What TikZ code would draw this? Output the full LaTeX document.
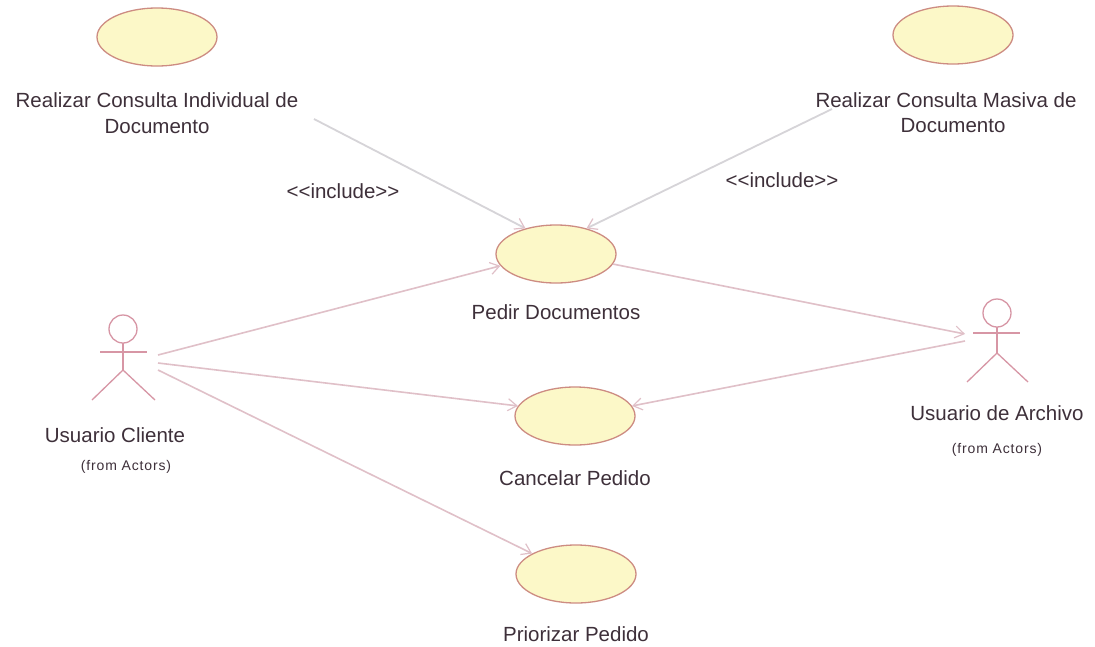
\documentclass[tikz,border=0pt]{standalone}
\usepackage{fontspec}
\setmainfont{Liberation Sans}
\newfontfamily\spacedfont{Liberation Sans}[LetterSpace=6]
\usetikzlibrary{arrows.meta,shapes.geometric}
\definecolor{ucfill}{RGB}{252,248,200}
\definecolor{ucedge}{RGB}{205,140,130}
\definecolor{actorline}{RGB}{215,150,165}
\definecolor{assocline}{RGB}{224,192,200}
\definecolor{incline}{RGB}{214,212,216}
\definecolor{txt}{RGB}{62,48,58}
\tikzset{
  usecase/.style={ellipse, draw=ucedge, fill=ucfill, line width=1.3pt,
    minimum width=120pt, minimum height=58pt, inner sep=0pt},
  lbl/.style={text=txt, font=\fontsize{20.5}{26}\selectfont, align=center, inner sep=0pt},
  small/.style={text=txt, font=\spacedfont\fontsize{14}{16}\selectfont, inner sep=0pt},
  actor/.style={draw=actorline, line width=1.3pt},
  assoc/.style={draw=assocline, line width=1.6pt, -{Straight Barb[length=9pt,width=12pt,line width=1.2pt]}},
  incl/.style={draw=incline, line width=1.8pt, -{Straight Barb[length=9pt,width=12pt,line width=1.2pt, color=assocline]}},
}
\newcommand{\incltext}{<\kern0pt<include>\kern0pt>}
\begin{document}
\begin{tikzpicture}[x=1pt,y=-1pt]
\useasboundingbox[fill=white] (0,0) rectangle (1095,646);

% use cases
\node[usecase] (rci) at (157,37) {};
\node[usecase] (rcm) at (953,35) {};
\node[usecase] (pd)  at (556,254) {};
\node[usecase] (cp)  at (575,416) {};
\node[usecase] (pp)  at (576,574) {};

\node[lbl] (rciL) at (157,113) {Realizar Consulta Individual de\\Documento};
\node[lbl] (rcmL1) at (946,100) {Realizar Consulta Masiva de};
\node[lbl] (rcmL2) at (953,126) {Documento};
\node[lbl] (pdL) at (556,312) {Pedir Documentos};
\node[lbl] (cpL) at (575,478) {Cancelar Pedido};
\node[lbl] (ppL) at (576,634) {Priorizar Pedido};

\node[lbl] (inc1) at (343,191) {\incltext};
\node[lbl] (inc2) at (782,180) {\incltext};

% actor: Usuario Cliente
\draw[actor] (123,329) circle (14);
\draw[actor] (100,352) -- (147,352);
\draw[actor] (123,343) -- (123,370);
\draw[actor] (92,400) -- (123,370) -- (155,400);
\coordinate (uc) at (158,355);
\coordinate (uc2) at (158,363);
\coordinate (uc3) at (158,370);
\node[lbl] (ucL) at (115,435) {Usuario Cliente};
\node[small] (ucF) at (126,467) {(from Actors)};

% actor: Usuario de Archivo
\draw[actor] (997,313) circle (14);
\draw[actor] (973,333) -- (1020,333);
\draw[actor] (997,327) -- (997,353);
\draw[actor] (967,382) -- (997,353) -- (1028,382);
\coordinate (ua) at (965,334);
\coordinate (ua2) at (965,341);
\node[lbl] (uaL) at (997,413) {Usuario de Archivo};
\node[small] (uaF) at (997,450) {(from Actors)};

% include dependencies
\coordinate (i1s) at (314,119);
\coordinate (i2s) at (832,109);
\draw[incl] (i1s) -- (pd.140);
\draw[incl] (i2s) -- (pd.40);

% associations
\draw[assoc] (uc) -- (pd.192);
\draw[assoc] (uc2) -- (cp.170);
\draw[assoc] (uc3) -- (pp.155);
\draw[assoc] (pd.-10) -- (ua);
\draw[assoc] (ua2) -- (cp.10);
\end{tikzpicture}
\end{document}
